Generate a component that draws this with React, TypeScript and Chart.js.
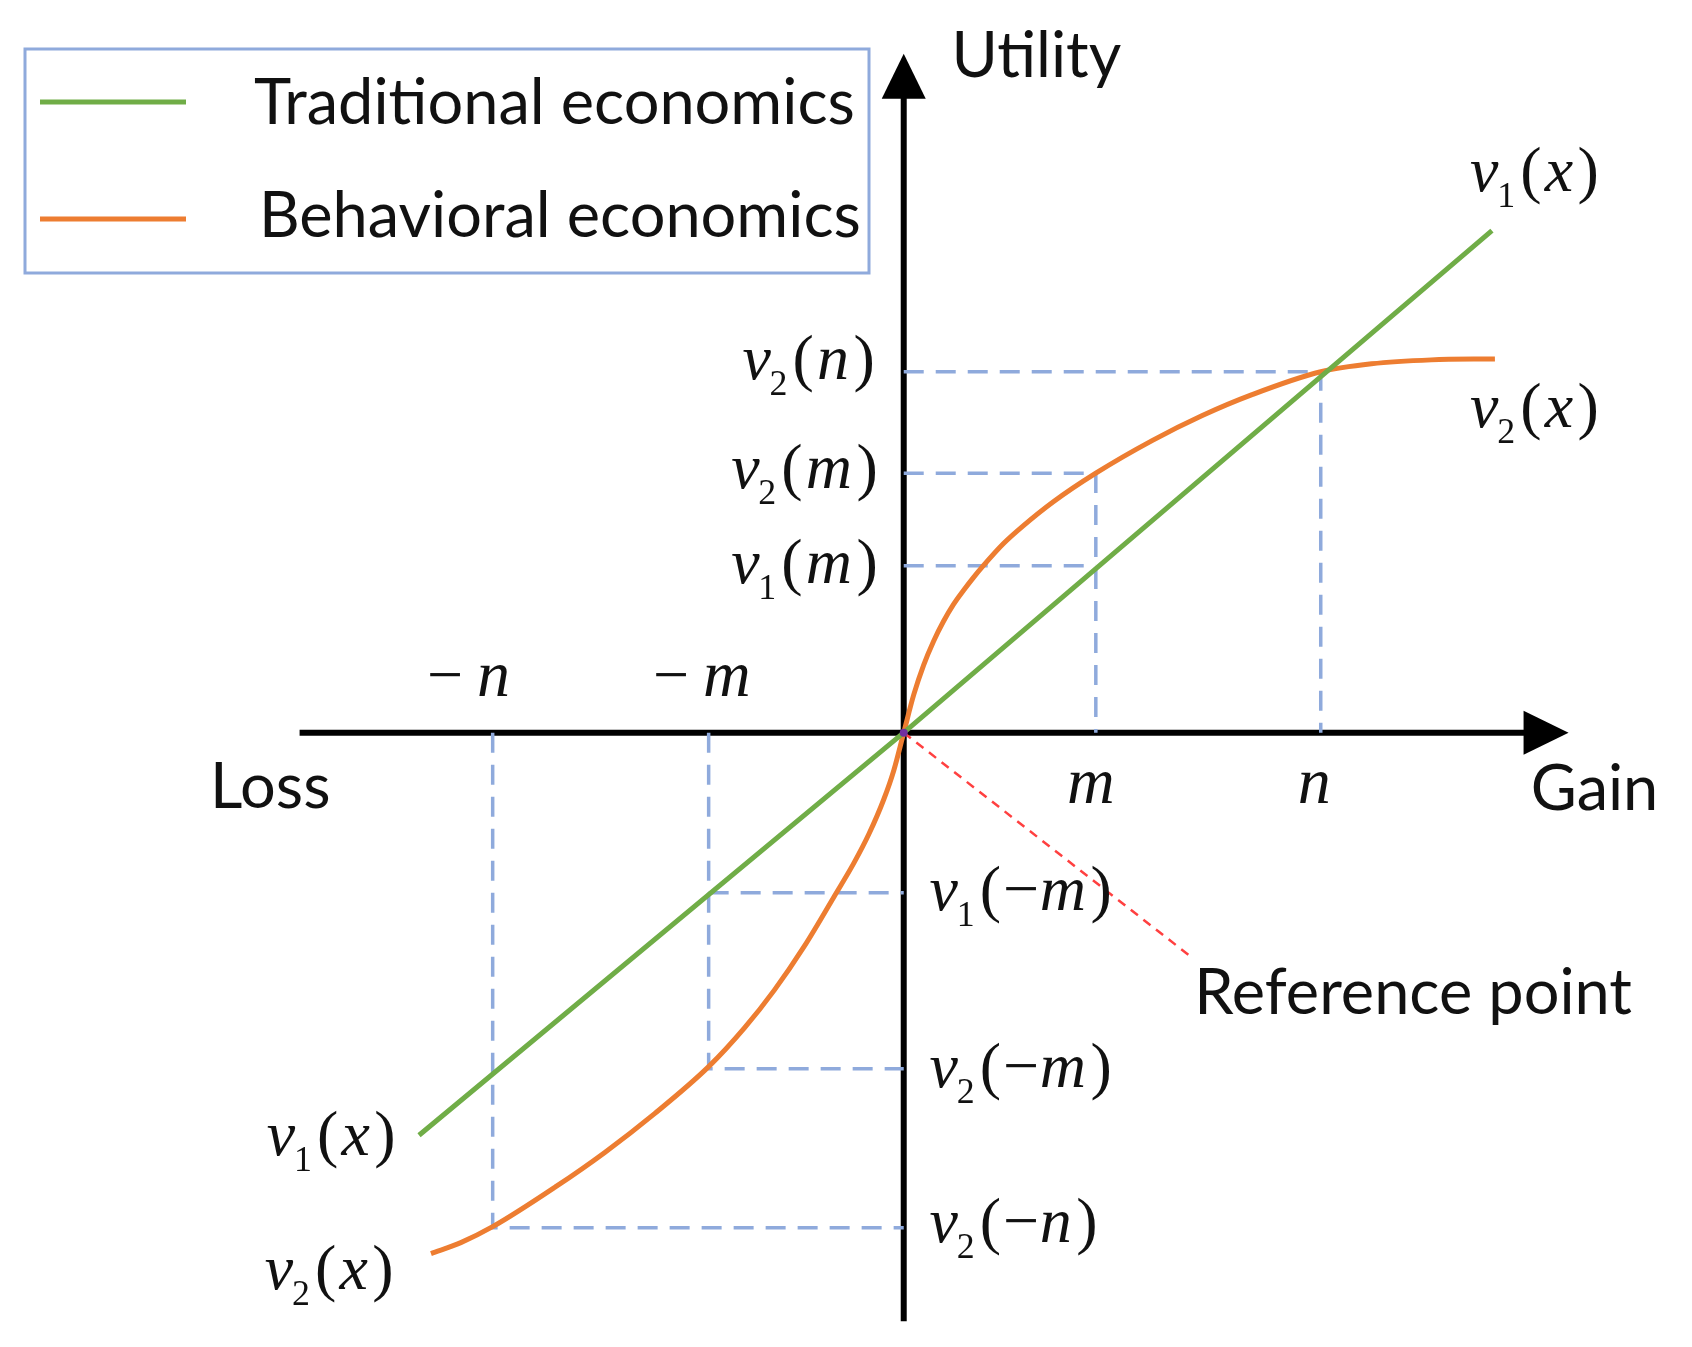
import React, { useEffect, useRef } from "react";
import { Chart, registerables } from "chart.js";

Chart.register(...registerables);

// ---------------- data (1 unit = 100 px, origin = reference point) ----------------
const SERIES_NAMES = ["Traditional economics", "Behavioral economics"];

// v1(x): traditional (linear) utility
const TRADITIONAL_X = [-4.87, 0, 5.91];
const TRADITIONAL_Y = [-4.05, 0, 5.05];

// v2(x): behavioral (prospect-theory) value function
const BEHAVIORAL_X = [
  -4.75, -4.45, -4.13, -3.5, -3.0, -2.5, -1.96, -1.6, -1.3, -1.0, -0.7, -0.5, -0.35, -0.2, -0.1, 0,
  0.1, 0.2, 0.3, 0.4, 0.5, 0.6, 0.7, 0.8, 1.0, 1.2, 1.5, 1.93, 2.5, 3.0, 3.5, 4.19, 4.7, 5.3, 5.94,
];
const BEHAVIORAL_Y = [
  -5.24, -5.13, -4.97, -4.57, -4.22, -3.83, -3.36, -2.97, -2.59, -2.15, -1.65, -1.31, -1.02, -0.67, -0.38, 0,
  0.38, 0.68, 0.92, 1.12, 1.29, 1.43, 1.56, 1.68, 1.9, 2.08, 2.32, 2.61, 2.94, 3.19, 3.4, 3.63, 3.71, 3.75, 3.76,
];

// marked gains / losses and their utilities
const GAIN_M = 1.93;
const GAIN_N = 4.19;
const LOSS_M = -1.96;
const LOSS_N = -4.13;
const V1_M = 1.68;
const V2_M = 2.61;
const V2_N = 3.63;
const V1_NEG_M = -1.61;
const V2_NEG_M = -3.38;
const V2_NEG_N = -4.98;

// reference-point pointer line
const REF_LINE_X = [0, 2.88];
const REF_LINE_Y = [0, -2.25];

// axis extents (arrow tips)
const AXIS_X_RANGE = [-6.07, 6.68];
const AXIS_Y_RANGE = [-5.92, 6.83];

// ---------------- annotation layout (data units) ----------------
const SANS_LABELS = [
  { text: "Utility", x: 0.48, y: 6.6 },
  { text: "Loss", x: -6.97, y: -0.76 },
  { text: "Gain", x: 6.3, y: -0.78 },
  { text: "Reference point", x: 2.92, y: -2.83 },
];

const TICK_LABELS = [
  { minus: true, v: "n", x: -4.79, y: 0.37 },
  { minus: true, v: "m", x: -2.52, y: 0.37 },
  { minus: false, v: "m", x: 1.64, y: -0.71 },
  { minus: false, v: "n", x: 3.96, y: -0.71 },
];

const MATH_LABELS = [
  { sub: "1", arg: "x", x: 5.69, y: 5.6, align: "left" },
  { sub: "2", arg: "x", x: 5.69, y: 3.23, align: "left" },
  { sub: "2", arg: "n", x: -0.29, y: 3.71, align: "right" },
  { sub: "2", arg: "m", x: -0.26, y: 2.62, align: "right" },
  { sub: "1", arg: "m", x: -0.26, y: 1.66, align: "right" },
  { sub: "1", arg: "−m", x: 0.26, y: -1.63, align: "left" },
  { sub: "2", arg: "−m", x: 0.26, y: -3.41, align: "left" },
  { sub: "2", arg: "−n", x: 0.26, y: -4.97, align: "left" },
  { sub: "1", arg: "x", x: -6.4, y: -4.09, align: "left" },
  { sub: "2", arg: "x", x: -6.42, y: -5.44, align: "left" },
];

const GREEN = "#70AD47";
const ORANGE = "#ED7D31";
const GUIDE = "#8FAADC";
const RED = "#FF4040";
const PURPLE = "#7030A0";
const SANS = "Lato, 'Open Sans', sans-serif";
const SERIF = "'Liberation Serif', 'DejaVu Serif', serif";

const zip = (xs: number[], ys: number[]) => xs.map((x, i) => ({ x, y: ys[i] }));

function drawMath(ctx: CanvasRenderingContext2D, lab: any, px: number, py: number, S: number) {
  const baseY = py + 0.24 * S;
  const parts: { t: string; font: string; dy: number; gap: number }[] = [];
  parts.push({ t: "v", font: `italic ${S}px ${SERIF}`, dy: 0, gap: 0 });
  parts.push({ t: lab.sub, font: `${0.56 * S}px ${SERIF}`, dy: 0.25 * S, gap: -0.02 * S });
  parts.push({ t: "(", font: `${S}px ${SERIF}`, dy: 0, gap: 0.08 * S });
  const arg: string = lab.arg;
  if (arg.startsWith("−")) {
    parts.push({ t: "−", font: `${S}px ${SERIF}`, dy: 0, gap: 0.03 * S });
    parts.push({ t: arg.slice(1), font: `italic ${S}px ${SERIF}`, dy: 0, gap: 0.01 * S });
  } else {
    parts.push({ t: arg, font: `italic ${S}px ${SERIF}`, dy: 0, gap: 0.05 * S });
  }
  parts.push({ t: ")", font: `${S}px ${SERIF}`, dy: 0, gap: 0.07 * S });
  let total = 0;
  const widths = parts.map((p) => {
    ctx.font = p.font;
    const w = ctx.measureText(p.t).width;
    total += p.gap + w;
    return w;
  });
  let x = lab.align === "right" ? px - total : px;
  ctx.textAlign = "left";
  ctx.textBaseline = "alphabetic";
  parts.forEach((p, i) => {
    x += p.gap;
    ctx.font = p.font;
    ctx.fillText(p.t, x, baseY + p.dy);
    x += widths[i];
  });
}

const overlayPlugin = {
  id: "overlay",
  beforeDatasetsDraw(chart: any) {
    const ctx: CanvasRenderingContext2D = chart.ctx;
    const xs = chart.scales.x;
    const ys = chart.scales.y;
    const X = (v: number) => xs.getPixelForValue(v);
    const Y = (v: number) => ys.getPixelForValue(v);
    ctx.save();
    ctx.strokeStyle = "#000";
    ctx.fillStyle = "#000";
    ctx.lineWidth = 6;
    const ox = X(0);
    const oy = Y(0);
    const xl = X(AXIS_X_RANGE[0]);
    const xr = X(AXIS_X_RANGE[1]);
    ctx.beginPath();
    ctx.moveTo(xl, oy);
    ctx.lineTo(xr - 40, oy);
    ctx.stroke();
    ctx.beginPath();
    ctx.moveTo(xr, oy);
    ctx.lineTo(xr - 45, oy - 22);
    ctx.lineTo(xr - 45, oy + 22);
    ctx.closePath();
    ctx.fill();
    const yb = Y(AXIS_Y_RANGE[0]);
    const yt = Y(AXIS_Y_RANGE[1]);
    ctx.beginPath();
    ctx.moveTo(ox, yb);
    ctx.lineTo(ox, yt + 40);
    ctx.stroke();
    ctx.beginPath();
    ctx.moveTo(ox, yt);
    ctx.lineTo(ox - 22, yt + 45);
    ctx.lineTo(ox + 22, yt + 45);
    ctx.closePath();
    ctx.fill();
    ctx.restore();
  },
  afterDatasetsDraw(chart: any) {
    const ctx: CanvasRenderingContext2D = chart.ctx;
    const xs = chart.scales.x;
    const ys = chart.scales.y;
    const X = (v: number) => xs.getPixelForValue(v);
    const Y = (v: number) => ys.getPixelForValue(v);
    ctx.save();
    // font size fitted to the legend's first entry
    ctx.font = `100px ${SANS}`;
    const sansSize = (100 * 601) / ctx.measureText(SERIES_NAMES[0]).width;
    ctx.fillStyle = "#111";
    ctx.textAlign = "left";
    ctx.textBaseline = "alphabetic";
    ctx.font = `${sansSize}px ${SANS}`;
    SANS_LABELS.forEach((l) => ctx.fillText(l.text, X(l.x), Y(l.y)));

    // tick-like italic labels
    TICK_LABELS.forEach((l) => {
      let x = X(l.x);
      const y = Y(l.y);
      if (l.minus) {
        ctx.font = `64px ${SERIF}`;
        ctx.fillText("−", x, y);
        x += ctx.measureText("−").width + 14;
      }
      ctx.font = `italic 66px ${SERIF}`;
      ctx.fillText(l.v, x, y);
    });

    // math labels
    MATH_LABELS.forEach((l) => drawMath(ctx, l, X(l.x), Y(l.y), 64));

    // legend box
    ctx.lineWidth = 3;
    ctx.strokeStyle = GUIDE;
    ctx.strokeRect(25, 49, 844, 224);
    const legendColors = [GREEN, ORANGE];
    const rowY = [102, 219];
    const textX = [254, 259];
    const textBase = [124, 237];
    SERIES_NAMES.forEach((name, i) => {
      ctx.strokeStyle = legendColors[i];
      ctx.lineWidth = 5;
      ctx.beginPath();
      ctx.moveTo(40, rowY[i]);
      ctx.lineTo(186, rowY[i]);
      ctx.stroke();
      ctx.fillStyle = "#111";
      ctx.font = `${sansSize}px ${SANS}`;
      ctx.fillText(name, textX[i], textBase[i]);
    });
    ctx.restore();
  },
};

export default function App() {
  const ref = useRef<HTMLCanvasElement | null>(null);
  useEffect(() => {
    if (!ref.current) return;
    const guide = (pts: { x: number; y: number }[]) => ({
      data: pts,
      borderColor: GUIDE,
      borderWidth: 3.5,
      borderDash: [20, 12],
      pointRadius: 0,
      tension: 0,
      fill: false,
    });
    const chart = new Chart(ref.current, {
      type: "line",
      data: {
        datasets: [
          {
            label: "reference point",
            data: [{ x: 0, y: 0 }],
            showLine: false,
            pointRadius: 4,
            pointBackgroundColor: PURPLE,
            pointBorderWidth: 0,
          } as any,
          {
            label: SERIES_NAMES[0],
            data: zip(TRADITIONAL_X, TRADITIONAL_Y),
            borderColor: GREEN,
            borderWidth: 5,
            pointRadius: 0,
            tension: 0,
          },
          {
            label: SERIES_NAMES[1],
            data: zip(BEHAVIORAL_X, BEHAVIORAL_Y),
            borderColor: ORANGE,
            borderWidth: 5,
            pointRadius: 0,
            cubicInterpolationMode: "monotone",
          },
          {
            label: "pointer",
            data: zip(REF_LINE_X, REF_LINE_Y),
            borderColor: RED,
            borderWidth: 2.5,
            borderDash: [9, 7],
            pointRadius: 0,
            tension: 0,
          },
          guide([{ x: 0, y: V2_N }, { x: GAIN_N, y: V2_N }, { x: GAIN_N, y: 0 }]),
          guide([{ x: 0, y: V2_M }, { x: GAIN_M, y: V2_M }, { x: GAIN_M, y: 0 }]),
          guide([{ x: 0, y: V1_M }, { x: GAIN_M, y: V1_M }]),
          guide([{ x: LOSS_N, y: 0 }, { x: LOSS_N, y: V2_NEG_N }, { x: 0, y: V2_NEG_N }]),
          guide([{ x: LOSS_M, y: 0 }, { x: LOSS_M, y: V2_NEG_M }, { x: 0, y: V2_NEG_M }]),
          guide([{ x: LOSS_M, y: V1_NEG_M }, { x: 0, y: V1_NEG_M }]),
        ] as any,
      },
      options: {
        animation: false,
        responsive: false,
        devicePixelRatio: 1,
        layout: { padding: 0 },
        scales: {
          x: { type: "linear", min: -9.04, max: 7.88, display: false },
          y: { type: "linear", min: -6.14, max: 7.33, display: false },
        },
        plugins: {
          legend: { display: false },
          tooltip: { enabled: false },
        },
        events: [],
      },
      plugins: [overlayPlugin as any],
    });
    return () => chart.destroy();
  }, []);
  return (
    <div style={{ position: "absolute", left: 0, top: 0, width: 1692, height: 1347, background: "#fff" }}>
      <canvas ref={ref} width={1692} height={1347} style={{ display: "block" }} />
    </div>
  );
}
